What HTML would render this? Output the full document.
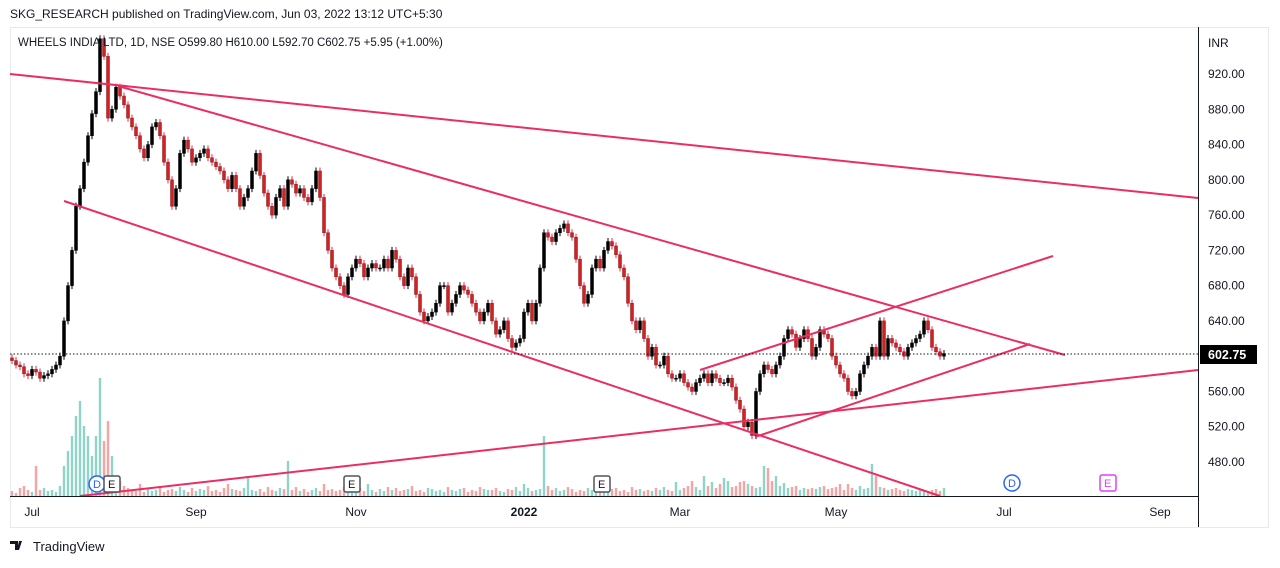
<!DOCTYPE html>
<html><head><meta charset="utf-8"><style>
body{margin:0;width:1280px;height:563px;background:#fff;overflow:hidden;font-family:"Liberation Sans",sans-serif}
svg text{font-family:"Liberation Sans",sans-serif}
</style></head><body>
<svg id="c" width="1280" height="563" xmlns="http://www.w3.org/2000/svg">
<text x="10" y="18" font-size="12" fill="#131722">SKG_RESEARCH published on TradingView.com, Jun 03, 2022 13:12 UTC+5:30</text>
<rect x="10.5" y="27.5" width="1258" height="500" fill="none" stroke="#e8e9ef"/>
<g id="vol"></g>
<g id="candles"></g>
<g id="lines"></g>
<line x1="10" y1="354" x2="1198" y2="354" stroke="#131722" stroke-dasharray="1.5,2"/>
<line x1="10" y1="496.5" x2="1198" y2="496.5" stroke="#131722"/>
<line x1="1198.5" y1="27" x2="1198.5" y2="527" stroke="#131722"/>
<g id="yax"></g>
<g id="xax"></g>
<text x="1208" y="47" font-size="12" fill="#131722">INR</text>
<rect x="1200" y="345" width="57" height="19" fill="#000"/>
<text x="1208" y="359" font-size="12.5" font-weight="bold" fill="#fff">602.75</text>
<text x="18" y="46" font-size="11.5" fill="#131722">WHEELS INDIA LTD, 1D, NSE  O599.80  H610.00  L592.70  C602.75  +5.95 (+1.00%)</text>
<g><circle cx="97" cy="484" r="8" fill="#fff" stroke="#2962ff" stroke-width="1.5"/><text x="93" y="488" font-size="11" fill="#2962ff">D</text></g>
<g><rect x="104" y="476" width="16" height="16" rx="2" fill="#fff" stroke="#50535e" stroke-width="1.5"/><text x="108" y="488" font-size="11" fill="#131722">E</text></g>
<g><rect x="344" y="476" width="16" height="16" rx="2" fill="#fff" stroke="#50535e" stroke-width="1.5"/><text x="348" y="488" font-size="11" fill="#131722">E</text></g>
<g><rect x="594" y="476" width="16" height="16" rx="2" fill="#fff" stroke="#50535e" stroke-width="1.5"/><text x="598" y="488" font-size="11" fill="#131722">E</text></g>
<g><circle cx="1012" cy="483" r="8" fill="#fff" stroke="#2962ff" stroke-width="1.5"/><text x="1008" y="487" font-size="11" fill="#2962ff">D</text></g>
<g><rect x="1100" y="475" width="16" height="16" rx="2" fill="#fff" stroke="#e040fb" stroke-width="1.5"/><text x="1104" y="487" font-size="11" fill="#e040fb">E</text></g>
<g><path d="M10 541h8v9h-3v-6h-5z M19 541h3l-3 9h-2z" fill="#131722"/><circle cx="20" cy="542.5" r="0" fill="#131722"/><text x="33" y="551" font-size="13" fill="#131722">TradingView</text></g>
</svg>
<script>
const closes=[595,590,588,580,578,585,582,575,578,580,
585,590,600,640,680,720,770,790,820,850,
875,900,960,940,870,880,905,895,885,870,
860,850,835,825,840,860,865,850,820,800,
770,790,830,845,835,820,825,830,835,825,
820,815,810,800,790,805,790,770,780,790,
810,830,805,785,770,760,780,790,770,800,
795,785,790,780,775,790,810,780,740,720,
700,690,680,670,690,700,710,705,690,700,
705,700,700,710,700,720,710,690,680,700,
690,670,650,640,645,650,660,680,680,650,
660,670,680,675,670,660,650,640,650,660,
640,625,630,640,620,610,615,620,650,660,
640,660,700,740,735,730,740,745,750,740,
735,710,680,660,670,700,710,700,720,730,
725,715,700,690,660,640,630,640,620,600,
610,590,590,600,580,575,575,580,570,565,
560,570,575,580,570,580,575,570,570,575,
565,550,540,520,525,510,560,580,590,585,
580,590,600,620,630,625,610,620,630,620,
600,610,630,625,620,600,590,580,575,560,
555,560,580,590,600,610,600,640,600,620,
615,610,605,600,610,615,620,625,640,630,
610,605,600,603];
const volumes=[5,3,8,10,6,4,30,6,8,5,
6,4,10,30,45,60,80,95,70,60,
40,60,118,55,75,40,20,15,10,8,
6,5,12,4,8,5,6,10,4,6,
7,5,9,6,4,8,5,7,6,10,
5,6,4,8,12,7,6,5,8,20,
6,5,7,4,9,6,5,8,7,35,
6,9,5,7,4,6,8,5,12,6,
7,5,6,9,4,6,7,8,5,12,
6,4,7,5,9,6,8,5,6,7,
10,5,6,4,8,7,5,6,4,9,
6,5,7,8,4,6,5,9,7,6,
6,8,5,4,7,6,9,5,12,8,
5,6,7,60,10,6,8,5,6,9,
7,4,6,5,8,6,5,7,6,4,
7,8,5,6,4,9,6,7,5,6,
5,8,6,9,6,5,14,6,8,10,
15,9,6,20,10,14,8,12,18,15,
9,10,14,15,12,10,8,9,30,28,
15,20,10,13,8,9,10,6,8,7,
8,7,9,10,7,8,9,12,6,12,
8,6,10,7,8,32,20,9,8,6,
7,8,6,5,7,6,5,7,6,5,
6,7,5,8];
const priceTicks=[920,880,840,800,760,720,680,640,560,520,480];
const monthLabels=["Jul","Sep","Nov","2022","Mar","May","Jul","Sep"];
const monthIdx=[5,46,86,128,167,206,248,287];
const NS="http://www.w3.org/2000/svg";
const yOf=p=>74+(920-p)*0.8818;
const xOf=i=>12+i*4;
const volY=v=>496-v;
function mk(t,a,parent){const e=document.createElementNS(NS,t);for(const k in a)e.setAttribute(k,a[k]);parent.appendChild(e);return e;}
const cg=document.getElementById('candles'),vg=document.getElementById('vol');
for(let i=0;i<closes.length;i++){
  const o=i?closes[i-1]:closes[0]+3,c=closes[i];const up=c>=o;const x=xOf(i);
  const hi=Math.max(o,c)+4,lo=Math.min(o,c)-4;
  const v=mk('rect',{x:x-1.2,y:volY(volumes[i]),width:2.4,height:volumes[i],fill:up?'#8fd3c9':'#f5a3a3'},vg);
  
  
  const w=mk('line',{x1:x,x2:x,y1:yOf(hi),y2:yOf(lo),stroke:up?'#000':'#e8245a','stroke-width':1},cg);
  
  
  const b=mk('rect',{x:x-1.5,y:yOf(Math.max(o,c)),width:3,height:Math.max(1,Math.abs(yOf(o)-yOf(c))),fill:up?'#000':'#d32020',stroke:up?'#000':'#8b1a1a','stroke-width':0.5},cg);
  
  
}
const lg=document.getElementById('lines');
[[10,74,1198,198],[118,86,1065,355],[64,201,940,496],[80,496,1198,370],[700,370,1053,256],[755,437,1030,344]].forEach(s=>{
  const l=mk('line',{x1:s[0],y1:s[1],x2:s[2],y2:s[3],stroke:'#ea2e63','stroke-width':2},lg);
  
  
});
const ya=document.getElementById('yax');
priceTicks.forEach(p=>{const t=mk('text',{x:1208,y:yOf(p)+4,'font-size':12,fill:'#131722'},ya);t.textContent=p.toFixed(2);
  
  });
const xa=document.getElementById('xax');
monthLabels.forEach((m,k)=>{const t=mk('text',{x:xOf(monthIdx[k]),y:516,'font-size':12,fill:'#131722','text-anchor':'middle','font-weight':m==='2022'?'bold':'normal'},xa);t.textContent=m;
  
  });
</script>
</body></html>
